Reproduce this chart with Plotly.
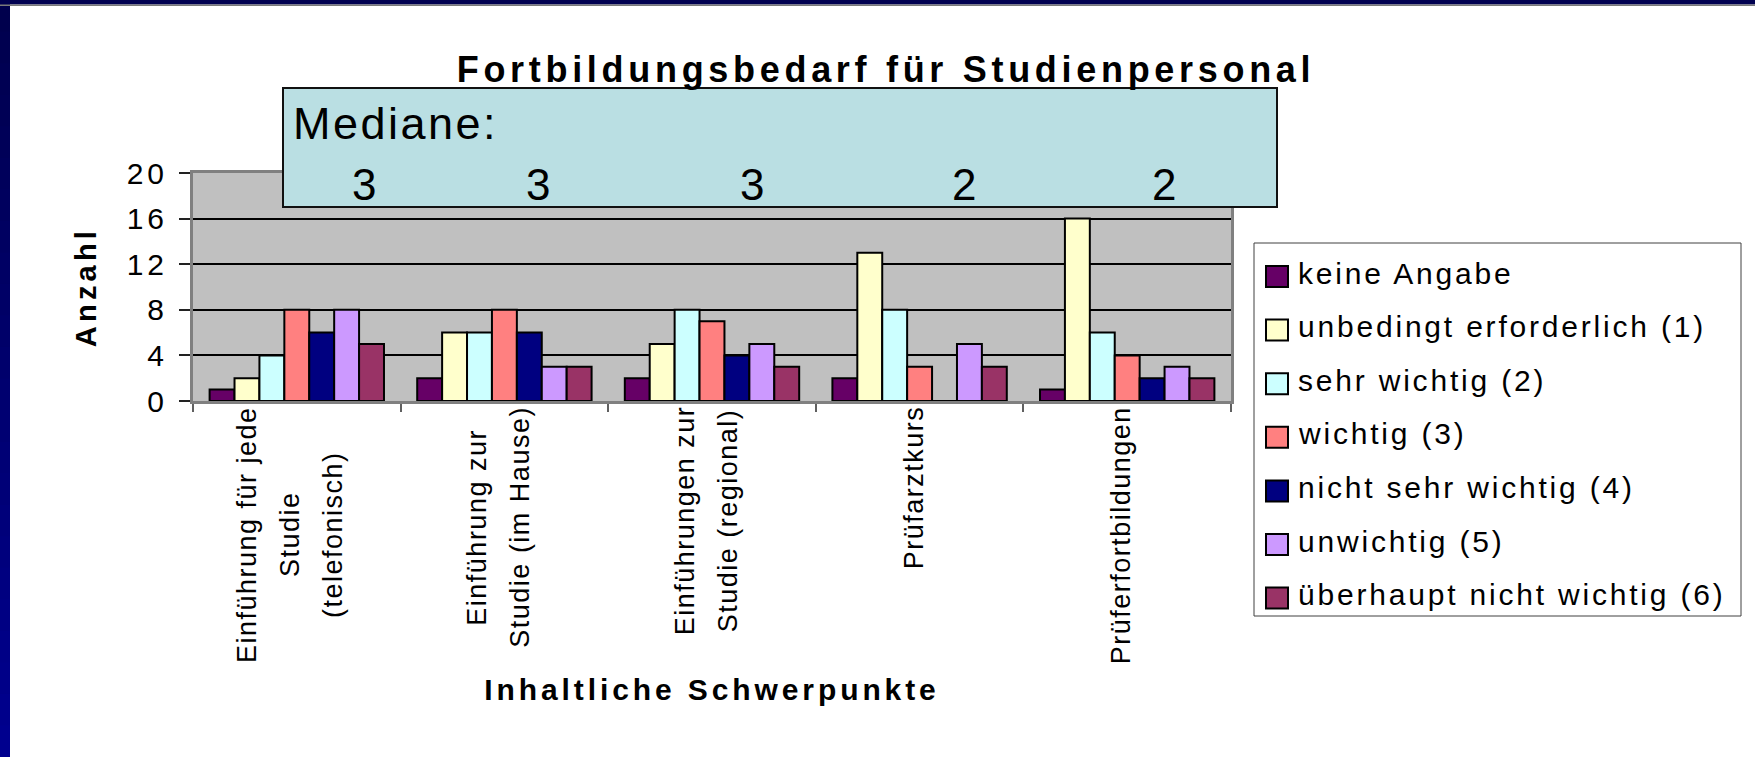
import plotly.graph_objects as go

# ---------------- data ----------------
categories = [
    "Einführung für jede<br>Studie<br>(telefonisch)",
    "Einführung zur<br>Studie (im Hause)",
    "Einführungen zur<br>Studie (regional)",
    "Prüfarztkurs",
    "Prüferfortbildungen",
]
series_names = [
    "keine Angabe",
    "unbedingt erforderlich (1)",
    "sehr wichtig (2)",
    "wichtig (3)",
    "nicht sehr wichtig (4)",
    "unwichtig (5)",
    "überhaupt nicht wichtig (6)",
]
keine_angabe = [1, 2, 2, 2, 1]
unbedingt_erforderlich = [2, 6, 5, 13, 16]
sehr_wichtig = [4, 6, 8, 8, 6]
wichtig = [8, 8, 7, 3, 4]
nicht_sehr_wichtig = [6, 6, 4, 0, 2]
unwichtig = [8, 3, 5, 5, 3]
ueberhaupt_nicht_wichtig = [5, 3, 3, 3, 2]
medians = [3, 3, 3, 2, 2]
y_tick_values = [0, 4, 8, 12, 16, 20]

title_text = "Fortbildungsbedarf für Studienpersonal"
x_title = "Inhaltliche Schwerpunkte"
y_title = "Anzahl"
median_label = "Mediane:"

series_values = [keine_angabe, unbedingt_erforderlich, sehr_wichtig, wichtig,
                 nicht_sehr_wichtig, unwichtig, ueberhaupt_nicht_wichtig]

# ---------------- style ----------------
colors = ["#660066", "#FFFFCC", "#CCFFFF", "#FF8080", "#000080", "#CC99FF", "#993366"]
FONT = "Arial, Liberation Sans, sans-serif"
W, H = 1755, 757
L, R, T, B = 193, 1231, 173, 401   # plot area in pixels


def px(X):
    return (X - L) / (R - L)


def py(Y):
    return (B - Y) / (B - T)


def ls(text, sp):
    return f'<span style="letter-spacing:{sp}px">{text}</span>'


# approximate Arial advance widths (per 1000 em) for label layout
CW = {" ": 278, "(": 333, ")": 333, "A": 667, "E": 667, "H": 722, "P": 667, "S": 667,
      "a": 556, "b": 556, "c": 500, "d": 556, "e": 556, "f": 278, "g": 556, "h": 556,
      "i": 222, "j": 222, "k": 500, "l": 222, "m": 833, "n": 556, "o": 556, "p": 556,
      "r": 333, "s": 500, "t": 278, "u": 556, "ü": 556, "z": 500, "w": 722}


def text_len(s, size, sp):
    return sum(CW.get(c, 556) for c in s) / 1000 * size + len(s) * sp


fig = go.Figure()
for name, vals, col in zip(series_names, series_values, colors):
    fig.add_trace(go.Bar(
        x=categories, y=vals, name=name,
        marker=dict(color=col, line=dict(color="black", width=2)),
        showlegend=False,
    ))

shapes = []
annotations = []

# navy frame of the slide (left bar with gradient, top bar)
nb = 24
for k in range(nb):
    t0 = k / nb
    c0 = (0x00, 0x00, int(0x4C + (0x90 - 0x4C) * (k + 0.5) / nb))
    shapes.append(dict(type="rect", xref="paper", yref="paper",
                       x0=px(0), x1=px(10), y0=py(H * t0), y1=py(H * (k + 1) / nb + 1),
                       fillcolor="rgb(%d,%d,%d)" % c0, line=dict(width=0), layer="above"))
shapes.append(dict(type="rect", xref="paper", yref="paper", x0=px(0), x1=px(W),
                   y0=py(0), y1=py(4.5), fillcolor="#000050", line=dict(width=0), layer="above"))
shapes.append(dict(type="rect", xref="paper", yref="paper", x0=px(0), x1=px(W),
                   y0=py(4.5), y1=py(6), fillcolor="#7a7a7a", line=dict(width=0), layer="above"))

# median box
shapes.append(dict(type="rect", xref="paper", yref="paper", x0=px(283), x1=px(1277),
                   y0=py(88), y1=py(207), fillcolor="#BADFE3",
                   line=dict(color="#111111", width=2), layer="above"))
annotations.append(dict(text=ls(median_label, 2.5), xref="paper", yref="paper",
                        x=px(291), y=py(123), xanchor="left", yanchor="middle",
                        showarrow=False, font=dict(family=FONT, size=45, color="black")))
median_xshift = [67, 34, 40, 44, 37]
for cat, m, xs in zip(categories, medians, median_xshift):
    annotations.append(dict(text=str(m), xref="x", yref="paper", x=cat, xshift=xs,
                            y=py(184), xanchor="center", yanchor="middle", showarrow=False,
                            font=dict(family=FONT, size=44, color="black")))

# category labels (rotated, centre-aligned lines)
LBL_SIZE, LBL_SP, LBL_GAP = 27, 1.5, 43
for cat in categories:
    lines = cat.split("<br>")
    lmax = max(text_len(s, LBL_SIZE, LBL_SP) for s in lines)
    yc = 406 + lmax / 2
    n = len(lines)
    for i, s in enumerate(lines):
        annotations.append(dict(text=ls(s, LBL_SP), xref="x", yref="paper", x=cat,
                                xshift=(i - (n - 1) / 2) * LBL_GAP - 6,
                                y=py(yc), xanchor="center", yanchor="middle",
                                textangle=-90, showarrow=False,
                                font=dict(family=FONT, size=LBL_SIZE, color="black")))

# legend (drawn manually to match the boxed legend)
shapes.append(dict(type="rect", xref="paper", yref="paper", x0=px(1254), x1=px(1741),
                   y0=py(243), y1=py(616), fillcolor="white",
                   line=dict(color="#404040", width=1), layer="above"))
for i, (name, col) in enumerate(zip(series_names, colors)):
    yc = 275 + 53.6 * i
    shapes.append(dict(type="rect", xref="paper", yref="paper", x0=px(1266), x1=px(1288),
                       y0=py(yc - 9), y1=py(yc + 12), fillcolor=col,
                       line=dict(color="black", width=2), layer="above"))
    annotations.append(dict(text=ls(name, 2.8), xref="paper", yref="paper", x=px(1296),
                            y=py(yc - 2), xanchor="left", yanchor="middle", showarrow=False,
                            font=dict(family=FONT, size=30, color="black")))

fig.update_layout(
    width=W, height=H,
    margin=dict(l=L, r=W - R, t=T, b=H - B, pad=0),
    paper_bgcolor="white", plot_bgcolor="#C0C0C0",
    font=dict(family=FONT, color="black"),
    barmode="group", bargap=0.16, bargroupgap=0,
    title=dict(text=ls(title_text, 4.7), x=886 / W, xref="container", xanchor="center",
               y=1 - 69 / H, yref="container", yanchor="middle",
               font=dict(family=FONT, size=36, weight="bold", color="black")),
    xaxis=dict(
        type="category", showticklabels=False, ticks="outside", tickson="boundaries",
        ticklen=8, tickwidth=2, tickcolor="#606060",
        showline=True, linecolor="#808080", linewidth=3, mirror=True,
        showgrid=False,
        title=dict(text=ls(x_title, 3.9), standoff=276,
                   font=dict(family=FONT, size=30, weight="bold", color="black")),
    ),
    yaxis=dict(
        range=[0, 20], tickvals=y_tick_values,
        ticktext=[ls(str(v), 4) for v in y_tick_values],
        ticks="outside", ticklen=11, tickwidth=2, tickcolor="#222222",
        tickfont=dict(family=FONT, size=30, color="black"), ticklabelstandoff=5,
        showline=True, linecolor="#808080", linewidth=3, mirror=True,
        showgrid=True, gridcolor="black", gridwidth=1.5, zeroline=False,
        title=dict(text=ls(y_title, 4.2), standoff=22,
                   font=dict(family=FONT, size=29, weight="bold", color="black")),
    ),
    shapes=shapes, annotations=annotations,
)

fig.write_html("out.html", config={"displayModeBar": False},
               post_script="document.body.style.margin='0px';")
